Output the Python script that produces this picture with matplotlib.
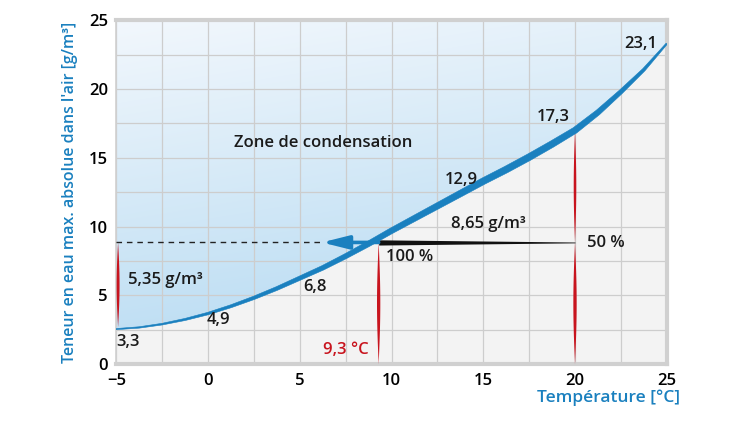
import numpy as np
import matplotlib.pyplot as plt
from matplotlib.patches import Polygon

plt.rcParams['font.family'] = ['Open Sans', 'DejaVu Sans']

# saturation curve (°C -> g/m3)
temps = [-5, -3.75, -2.5, -1.25, 0, 1.25, 2.5, 3.75, 5, 6.25, 7.5, 8.75, 10,
         11.25, 12.5, 13.75, 15, 16.25, 17.5, 18.75, 20, 21.25, 22.5, 23.75, 25]
max_water = [2.55, 2.67, 2.91, 3.25, 3.68, 4.21, 4.82, 5.5, 6.25, 7.0, 7.85, 8.75, 9.7,
             10.6, 11.5, 12.4, 13.3, 14.15, 15.05, 16.0, 17.0, 18.3, 19.8, 21.4, 23.3]
# stroke width of the curve along the way (pt)
curve_width = [0.8, 1.0, 1.2, 1.5, 1.8, 2.1, 2.4, 2.7, 3.0, 3.3, 3.6, 3.9, 4.1,
               4.3, 4.5, 4.7, 4.8, 4.9, 4.9, 4.8, 4.5, 3.9, 3.1, 2.2, 1.1]

dew_temp = 9.3
room_temp = 20
start_temp = -5
dew_water = 8.85      # drawn level of the 8,65 g/m3 line
start_water = 2.7
room_max = 17.0

blue = '#1a80bf'
red = '#c8141e'

fig = plt.figure(figsize=(7.5, 4.22), dpi=100)
ax = fig.add_axes([0.155, 0.137, 0.734, 0.815])
ax.set_facecolor('#f3f3f3')
ax.set_xlim(-5, 25)
ax.set_ylim(0, 25)

# gradient zone above the curve
gx, gy = np.meshgrid(np.linspace(-5, 25, 300), np.linspace(0, 25, 300))
s = np.clip(0.75 * (25 - gy) / 20 + 0.25 * (gx + 5) / 30, 0, 1)[..., None]
light = np.array([0.95, 0.97, 0.99])
dark = np.array([0.72, 0.86, 0.95])
img = light + (dark - light) * s
im = ax.imshow(img, extent=(-5, 25, 0, 25), origin='lower', aspect='auto', zorder=0.5)
zone = Polygon(list(zip(temps, max_water)) + [(25, 25), (-5, 25)], closed=True,
               transform=ax.transData, facecolor='none', edgecolor='none')
ax.add_patch(zone)
im.set_clip_path(zone)

# grid
ax.set_xticks(range(-5, 26, 5))
ax.set_yticks(range(0, 26, 5))
ax.set_xticks(np.arange(-5, 25.1, 2.5), minor=True)
ax.set_yticks(np.arange(0, 25.1, 2.5), minor=True)
ax.set_axisbelow('line')
ax.grid(which='both', color='#cdcdcd', lw=0.9)
ax.tick_params(which='both', length=0)
ax.tick_params(labelsize=12, pad=6)
ax.set_xticklabels(['\u22125', '0', '5', '10', '15', '20', '25'], fontweight=600)
ax.set_yticklabels([str(v) for v in range(0, 26, 5)], fontweight=600)

for side in ['top', 'right', 'bottom']:
    ax.spines[side].set_color('#d0d0d0')
    ax.spines[side].set_linewidth(3)
ax.spines['left'].set_color('#d0d0d0')
ax.spines['left'].set_linewidth(1.2)

# curve as a band of varying thickness (offset in pixel space)
pix = ax.transData.transform(np.column_stack([temps, max_water]))
tang = np.gradient(pix, axis=0)
tang /= np.linalg.norm(tang, axis=1)[:, None]
norm = np.column_stack([-tang[:, 1], tang[:, 0]])
half = np.array(curve_width)[:, None] * fig.dpi / 72 / 2
band = np.vstack([pix + norm * half, (pix - norm * half)[::-1]])
ax.add_patch(Polygon(ax.transData.inverted().transform(band), closed=True,
                     facecolor=blue, edgecolor=blue, lw=0.4, zorder=4))

# red spindles
def spindle(x, y0, y1, hw=0.09):
    t = np.linspace(0, 1, 60)
    yy = y0 + (y1 - y0) * t
    w = hw * np.sin(np.pi * t)
    ax.fill(np.r_[x - w, (x + w)[::-1]], np.r_[yy, yy[::-1]], color=red, lw=0,
            zorder=3, clip_on=False)

spindle(start_temp + 0.1, start_water, dew_water, 0.08)
spindle(dew_temp, 0, dew_water)
spindle(room_temp, 0, dew_water)
spindle(room_temp, dew_water, room_max, 0.07)

# black tapered line 50 % -> 100 %
t = np.linspace(0, 1, 50)
bx = room_temp + (dew_temp - room_temp) * t
bh = 0.03 + 0.16 * t
ax.fill_between(bx, dew_water - bh, dew_water + bh, color='#111111', lw=0, zorder=3.5)

# blue arrow and dashed line
ax.annotate('', xy=(6.2, dew_water), xytext=(dew_temp, dew_water),
            arrowprops=dict(arrowstyle='-|>,head_length=1.6,head_width=0.4',
                            color=blue, lw=2.6, shrinkA=0, shrinkB=0), zorder=5)
ax.plot([start_temp, 6.3], [dew_water, dew_water], color='#222222', lw=1,
        ls=(0, (4, 3.5)), zorder=3)

tkw = dict(fontsize=12, fontweight=600, color='#1a1a1a', zorder=6)
ax.text(1.4, 16.1, 'Zone de condensation', ha='left', va='center', **tkw)
ax.text(23.6, 23.3, '23,1', ha='center', va='center', **tkw)
ax.text(18.8, 18.0, '17,3', ha='center', va='center', **tkw)
ax.text(13.8, 13.4, '12,9', ha='center', va='center', **tkw)
ax.text(15.3, 10.2, '8,65 g/m³', ha='center', va='center', **tkw)
ax.text(21.7, 8.8, '50 %', ha='center', va='center', **tkw)
ax.text(11.0, 7.8, '100 %', ha='center', va='center', **tkw)
ax.text(5.85, 5.6, '6,8', ha='center', va='center', **tkw)
ax.text(0.55, 3.2, '4,9', ha='center', va='center', **tkw)
ax.text(-4.35, 1.6, '3,3', ha='center', va='center', **tkw)
ax.text(-2.3, 6.1, '5,35 g/m³', ha='center', va='center', **tkw)
ax.text(7.5, 1.0, '9,3 °C', ha='center', va='center', fontsize=12,
        fontweight=600, color=red, zorder=6)

ax.set_ylabel("Teneur en eau max. absolue dans l'air [g/m³]", color=blue,
              fontsize=11.5, fontweight=600, labelpad=8)
fig.text(0.907, 0.057, 'Température [°C]', ha='right', va='center', color=blue,
         fontsize=12.5, fontweight=600)

fig.savefig('out.png', dpi=100)
